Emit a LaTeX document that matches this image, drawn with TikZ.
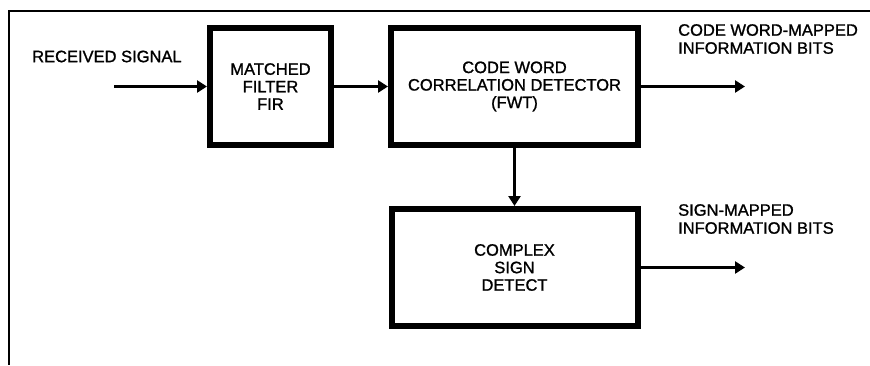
\documentclass[tikz,border=0pt]{standalone}
\usepackage{fontspec}
\setmainfont{Liberation Sans}[FakeBold=1.2]
\newfontfamily\labelfont{Liberation Sans}[FakeBold=1.2]
\usetikzlibrary{arrows.meta}
\tikzset{
  block/.style={draw, line width=6pt, inner sep=0pt, align=center,
    font=\labelfont\fontsize{16.5}{17.5}\selectfont},
  label/.style={inner sep=0pt, align=left,
    font=\labelfont\fontsize{16.5}{18}\selectfont},
  signal/.style={line width=3pt, -{Triangle[length=10pt,width=12pt]}},
  frame/.style={line width=2.5pt}
}
\begin{document}
\begin{tikzpicture}[x=1pt,y=-1pt]
  \useasboundingbox (0,0) rectangle (870,365);
  % partial frame: top and left edges
  \draw[frame] (870,11) -- (9,11) -- (9,365);

  % processing blocks
  \node[block, minimum width=121pt, minimum height=117pt] (mf) at (270.5,86.5)
    {MATCHED\\FILTER\\FIR};
  \node[block, minimum width=247pt, minimum height=117pt] (cw) at (514.5,86.5)
    {CODE WORD\\CORRELATION DETECTOR\\(FWT)};
  \node[block, minimum width=246pt, minimum height=117pt] (cs) at (514.5,267.5)
    {COMPLEX\\SIGN\\DETECT};

  % signal labels
  \node[label, anchor=west] (rx) at (32,56.5) {RECEIVED SIGNAL};
  \node[label, anchor=north west] (cwbits) at (678,24) {CODE WORD-MAPPED\\INFORMATION BITS};
  \node[label, anchor=north west] (sbits) at (678,204) {SIGN-MAPPED\\INFORMATION BITS};

  % free ends of the connectors
  \coordinate (in) at (114,86.5);
  \coordinate (out1) at (745,86.5);
  \coordinate (out2) at (745,267.5);

  % connectors
  \draw[signal] (in) -- (mf.west);
  \draw[signal] (mf.east) -- (cw.west);
  \draw[signal] (cw.east) -- (out1);
  \draw[signal] (cw.south) -- (cs.north);
  \draw[signal] (cs.east) -- (out2);
\end{tikzpicture}
\end{document}
